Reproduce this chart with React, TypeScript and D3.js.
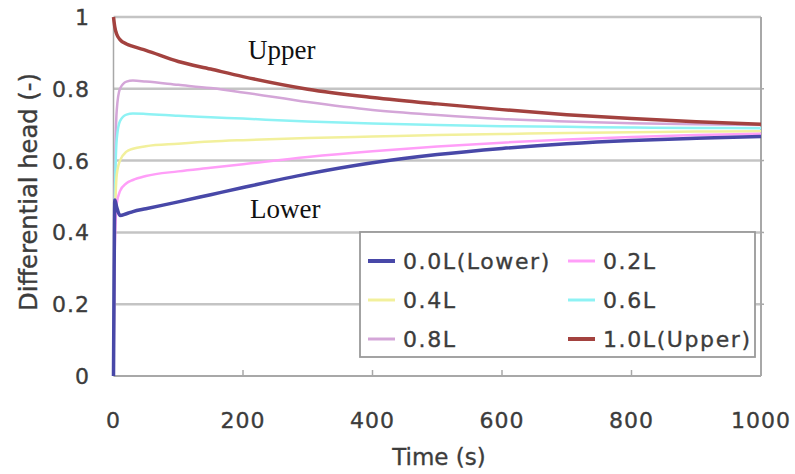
import React from 'react';
import * as d3 from 'd3';

// time points (s), shared by all series
const times = [0, 1, 2, 5, 10, 20, 30, 50, 100, 150, 200, 300, 400, 500, 600, 700, 800, 900, 1000];

const lower = [0, 0.3, 0.49, 0.47, 0.447, 0.452, 0.458, 0.466, 0.485, 0.505, 0.525, 0.563, 0.594, 0.617, 0.634, 0.647, 0.656, 0.662, 0.667];
const l02 = [0, 0.2, 0.35, 0.48, 0.515, 0.537, 0.546, 0.557, 0.57, 0.58, 0.59, 0.61, 0.626, 0.639, 0.65, 0.659, 0.666, 0.671, 0.675];
const l04 = [0, 0.25, 0.4, 0.56, 0.6, 0.625, 0.633, 0.64, 0.647, 0.653, 0.657, 0.663, 0.667, 0.671, 0.674, 0.677, 0.679, 0.681, 0.682];
const l06 = [0, 0.28, 0.47, 0.66, 0.71, 0.728, 0.731, 0.73, 0.725, 0.721, 0.717, 0.709, 0.703, 0.699, 0.696, 0.694, 0.692, 0.691, 0.69];
const l08 = [0, 0.3, 0.52, 0.74, 0.8, 0.82, 0.823, 0.82, 0.811, 0.802, 0.79, 0.763, 0.741, 0.727, 0.716, 0.709, 0.704, 0.701, 0.699];
const upper = [1.0, 0.985, 0.972, 0.952, 0.937, 0.925, 0.918, 0.907, 0.876, 0.855, 0.834, 0.799, 0.776, 0.758, 0.742, 0.728, 0.717, 0.708, 0.701];

const seriesNames = ['0.0L(Lower)', '0.2L', '0.4L', '0.6L', '0.8L', '1.0L(Upper)'];
const seriesValues = [lower, l02, l04, l06, l08, upper];
const seriesColors = ['#4848a8', '#ff9ef8', '#f2f09c', '#8ef2f4', '#d4a6d8', '#a3423f'];
const seriesWidths = [3.5, 2.5, 2.5, 2.5, 2.5, 3.5];

const xTicks = [0, 200, 400, 600, 800, 1000];
const yTicks = [0, 0.2, 0.4, 0.6, 0.8, 1];

const App = () => {
  const width = 795, height = 474;
  const x = d3.scaleLinear().domain([0, 1000]).range([113.5, 761]);
  const y = d3.scaleLinear().domain([0, 1]).range([376, 17]);
  const line = d3.line<number>()
    .x((d, i) => x(times[i]))
    .y(d => y(d))
    .curve(d3.curveMonotoneX);

  // slightly heavier grey text, like the blurred original
  const txt = { fontFamily: 'DejaVu Sans, sans-serif', fill: '#3c3c3c', stroke: '#3c3c3c', strokeWidth: 0.35 };
  const drawOrder = [4, 3, 2, 1, 0, 5];

  return (
    <svg width={width} height={height} style={{ position: 'absolute', left: 0, top: 0, background: '#fff' }}>
      {/* gridlines */}
      {yTicks.filter(v => v > 0).map(v => (
        <line key={'g' + v} x1={x(0)} x2={x(1000)} y1={y(v)} y2={y(v)} stroke="#c4c4c4" strokeWidth={2.5} />
      ))}
      {/* frame */}
      <line x1={x(0)} x2={x(0)} y1={y(1)} y2={y(0)} stroke="#a8a8a8" strokeWidth={1.5} />
      <line x1={x(1000)} x2={x(1000)} y1={y(1)} y2={y(0)} stroke="#a8a8a8" strokeWidth={2} />
      <line x1={x(0)} x2={x(1000)} y1={y(0)} y2={y(0)} stroke="#a8a8a8" strokeWidth={2} />
      {xTicks.slice(1, -1).map(v => (
        <line key={'xt' + v} x1={x(v)} x2={x(v)} y1={y(0)} y2={y(0) - 6} stroke="#a8a8a8" strokeWidth={1.5} />
      ))}
      {yTicks.slice(1, -1).map(v => (
        <line key={'yt' + v} x1={x(1000)} x2={x(1000) + 3} y1={y(v)} y2={y(v)} stroke="#a8a8a8" strokeWidth={1.5} />
      ))}

      {/* series */}
      {drawOrder.map(i => (
        <path key={seriesNames[i]} d={line(seriesValues[i]) || ''} fill="none"
          stroke={seriesColors[i]} strokeWidth={seriesWidths[i]} strokeLinejoin="round" />
      ))}

      {/* annotations */}
      <text x={248} y={59} style={{ fontFamily: 'Liberation Serif, Times New Roman, serif', fontSize: '27px', fill: '#111' }}>Upper</text>
      <text x={250} y={218} style={{ fontFamily: 'Liberation Serif, Times New Roman, serif', fontSize: '27px', fill: '#111' }}>Lower</text>

      {/* axis labels */}
      {yTicks.map(v => (
        <text key={'yl' + v} x={90} y={y(v) + 8} textAnchor="end" letterSpacing="1"
          style={{ ...txt, fontSize: '22px' }}>{d3.format('~g')(v)}</text>
      ))}
      {xTicks.map(v => (
        <text key={'xl' + v} x={x(v)} y={428} textAnchor="middle" letterSpacing="1"
          style={{ ...txt, fontSize: '22px' }}>{v}</text>
      ))}
      <text x={439} y={465} textAnchor="middle" style={{ ...txt, fontSize: '23px' }}>Time (s)</text>
      <text transform="translate(37,192) rotate(-90)" textAnchor="middle" textLength={238} lengthAdjust="spacingAndGlyphs"
        style={{ ...txt, fontSize: '24px' }}>Differential head (-)</text>

      {/* legend */}
      <rect x={360} y={232} width={395} height={125} fill="#fff" stroke="#9a9a9a" strokeWidth={1.8} />
      {seriesNames.map((name, i) => {
        const col = i % 2, row = Math.floor(i / 2);
        const lx = 368 + col * 200, ly = 261 + row * 39;
        return (
          <g key={'lg' + name}>
            <line x1={lx} x2={lx + 27} y1={ly} y2={ly} stroke={seriesColors[i]} strokeWidth={seriesWidths[i] + 0.5} />
            <text x={lx + 35} y={ly + 8} letterSpacing="1.6" style={{ ...txt, fontSize: '22px' }}>{name}</text>
          </g>
        );
      })}
    </svg>
  );
};

export default App;
